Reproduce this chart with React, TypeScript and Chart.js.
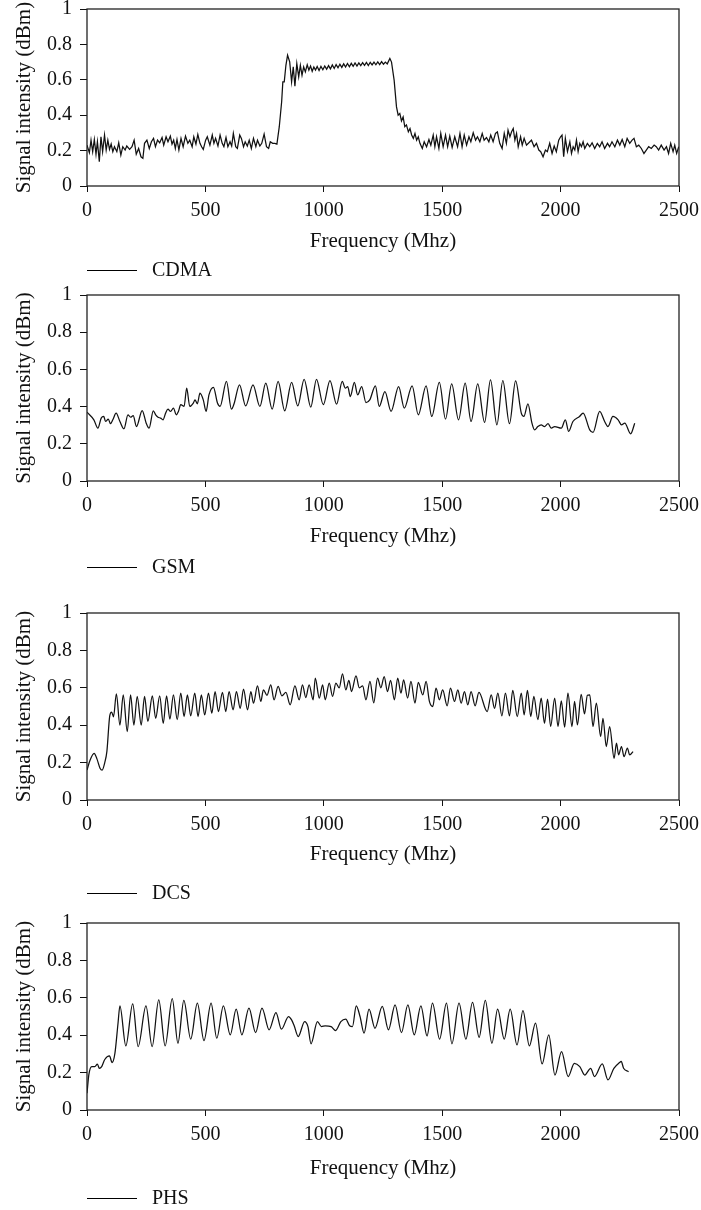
import React, { useEffect, useRef } from 'react';
import { Chart, registerables } from 'chart.js';

Chart.register(...registerables);

// ---------- text & ticks ----------
const X_TICKS = [0, 500, 1000, 1500, 2000, 2500];
const X_TICK_LABELS = ['0', '500', '1000', '1500', '2000', '2500'];
const Y_TICKS = [0, 0.2, 0.4, 0.6, 0.8, 1];
const Y_TICK_LABELS = ['0', '0.2', '0.4', '0.6', '0.8', '1'];
const X_TITLE = 'Frequency (Mhz)';
const Y_TITLE = 'Signal intensity (dBm)';

// ---------- CDMA ----------
const CDMA_FREQ = [
  0, 10, 17, 24, 31, 38, 44, 52, 59, 66, 74, 81, 88, 95, 102, 109, 116, 126, 134, 143,
  151, 161, 168, 180, 190, 199, 208, 218, 228, 236, 243, 253, 263, 272, 281, 289, 298, 307, 317, 324,
  334, 342, 352, 359, 366, 373, 380, 388, 397, 406, 416, 426, 434, 444, 451, 460, 468, 477, 484, 491,
  501, 508, 519, 529, 536, 543, 553, 562, 571, 578, 587, 595, 604, 611, 618, 628, 635, 645, 652, 661,
  668, 677, 685, 694, 703, 713, 720, 730, 738, 748, 758, 767, 774, 784, 793, 802, 812, 822, 827, 833,
  840, 847, 856, 864, 871, 878, 886, 894, 901, 908, 915, 922, 930, 937, 944, 951, 958, 965, 972, 980,
  988, 996, 1004, 1012, 1020, 1028, 1036, 1044, 1052, 1060, 1068, 1076, 1084, 1092, 1100, 1108, 1116, 1124, 1132, 1140,
  1148, 1156, 1164, 1172, 1180, 1188, 1196, 1204, 1212, 1220, 1228, 1236, 1244, 1252, 1260, 1268, 1279, 1286, 1297, 1307,
  1314, 1321, 1328, 1335, 1342, 1349, 1357, 1364, 1371, 1378, 1385, 1392, 1399, 1406, 1416, 1424, 1434, 1444, 1452, 1462,
  1469, 1476, 1486, 1494, 1504, 1514, 1523, 1532, 1542, 1553, 1565, 1575, 1584, 1593, 1603, 1613, 1621, 1631, 1641, 1649,
  1659, 1669, 1677, 1687, 1697, 1705, 1715, 1725, 1733, 1743, 1753, 1762, 1771, 1778, 1786, 1793, 1800, 1807, 1814, 1821,
  1831, 1838, 1846, 1856, 1866, 1877, 1888, 1898, 1908, 1916, 1926, 1936, 1944, 1954, 1964, 1973, 1982, 1992, 2000, 2006,
  2013, 2020, 2029, 2039, 2046, 2053, 2060, 2067, 2074, 2081, 2088, 2095, 2102, 2113, 2123, 2133, 2144, 2155, 2165, 2175,
  2186, 2198, 2207, 2217, 2229, 2240, 2250, 2260, 2271, 2281, 2292, 2302, 2310, 2320, 2330, 2341, 2352, 2362, 2372, 2383,
  2395, 2404, 2414, 2425, 2437, 2447, 2456, 2465, 2475, 2482, 2490, 2499,
];
const CDMA_SIGNAL = [
  0.231, 0.188, 0.259, 0.194, 0.263, 0.18, 0.25, 0.137, 0.278, 0.194, 0.288, 0.203, 0.259, 0.207, 0.237, 0.194, 0.222, 0.194, 0.244, 0.175,
  0.222, 0.203, 0.226, 0.207, 0.222, 0.259, 0.18, 0.212, 0.165, 0.156, 0.241, 0.259, 0.212, 0.25, 0.269, 0.222, 0.259, 0.244, 0.274, 0.231,
  0.278, 0.25, 0.282, 0.237, 0.259, 0.212, 0.263, 0.203, 0.269, 0.222, 0.282, 0.241, 0.259, 0.222, 0.278, 0.237, 0.291, 0.241, 0.222, 0.207,
  0.259, 0.278, 0.231, 0.288, 0.241, 0.269, 0.226, 0.288, 0.241, 0.222, 0.274, 0.222, 0.25, 0.226, 0.297, 0.222, 0.212, 0.288, 0.269, 0.222,
  0.25, 0.226, 0.259, 0.212, 0.269, 0.222, 0.259, 0.226, 0.241, 0.293, 0.222, 0.212, 0.25, 0.241, 0.241, 0.237, 0.335, 0.476, 0.588, 0.588,
  0.682, 0.739, 0.701, 0.588, 0.673, 0.564, 0.692, 0.617, 0.682, 0.626, 0.673, 0.645, 0.685, 0.655, 0.678, 0.648, 0.672, 0.655, 0.675, 0.652,
  0.676, 0.657, 0.678, 0.66, 0.68, 0.662, 0.684, 0.664, 0.686, 0.668, 0.688, 0.67, 0.69, 0.672, 0.692, 0.674, 0.693, 0.676, 0.695, 0.678,
  0.696, 0.68, 0.697, 0.682, 0.698, 0.681, 0.699, 0.684, 0.7, 0.685, 0.701, 0.686, 0.703, 0.688, 0.7, 0.69, 0.72, 0.7, 0.598, 0.447,
  0.4, 0.41, 0.368, 0.39, 0.335, 0.345, 0.306, 0.325, 0.288, 0.269, 0.297, 0.259, 0.278, 0.241, 0.212, 0.25, 0.222, 0.263, 0.231, 0.288,
  0.222, 0.278, 0.212, 0.297, 0.222, 0.288, 0.222, 0.282, 0.218, 0.278, 0.222, 0.297, 0.222, 0.288, 0.231, 0.278, 0.25, 0.301, 0.259, 0.278,
  0.25, 0.297, 0.259, 0.274, 0.25, 0.288, 0.25, 0.297, 0.306, 0.241, 0.212, 0.297, 0.241, 0.316, 0.278, 0.306, 0.325, 0.259, 0.297, 0.222,
  0.278, 0.231, 0.269, 0.231, 0.244, 0.259, 0.222, 0.241, 0.203, 0.194, 0.165, 0.203, 0.194, 0.241, 0.184, 0.226, 0.194, 0.259, 0.278, 0.288,
  0.165, 0.269, 0.194, 0.25, 0.184, 0.222, 0.203, 0.259, 0.194, 0.241, 0.222, 0.25, 0.212, 0.241, 0.222, 0.244, 0.212, 0.241, 0.222, 0.25,
  0.212, 0.241, 0.222, 0.25, 0.222, 0.259, 0.231, 0.263, 0.222, 0.269, 0.241, 0.259, 0.269, 0.222, 0.231, 0.212, 0.184, 0.203, 0.222, 0.212,
  0.231, 0.222, 0.203, 0.231, 0.203, 0.222, 0.184, 0.241, 0.194, 0.231, 0.184, 0.222,
];

// ---------- GSM ----------
const GSM_FREQ = [
  0, 29, 46, 60, 71, 78, 90, 99, 109, 123, 139, 156, 173, 184, 195, 209, 233, 250, 262, 280,
  290, 300, 311, 321, 332, 342, 353, 365, 377, 386, 396, 410, 421, 434, 449, 456, 466, 477, 491, 503,
  515, 534, 551, 562, 589, 610, 621, 644, 670, 701, 730, 755, 782, 807, 835, 864, 890, 917, 945, 969,
  998, 1026, 1054, 1078, 1091, 1101, 1112, 1129, 1143, 1160, 1178, 1194, 1218, 1234, 1258, 1284, 1316, 1340, 1373, 1399,
  1432, 1456, 1488, 1514, 1540, 1569, 1597, 1622, 1650, 1679, 1704, 1731, 1756, 1784, 1810, 1834, 1845, 1862, 1879, 1890,
  1904, 1918, 1932, 1947, 1961, 1975, 2003, 2020, 2034, 2052, 2080, 2095, 2123, 2137, 2165, 2186, 2200, 2221, 2243, 2257,
  2271, 2296, 2313,
];
const GSM_SIGNAL = [
  0.37, 0.329, 0.284, 0.338, 0.347, 0.32, 0.333, 0.308, 0.329, 0.365, 0.32, 0.281, 0.356, 0.343, 0.351, 0.293, 0.379, 0.311, 0.284, 0.377,
  0.356, 0.343, 0.338, 0.329, 0.365, 0.386, 0.374, 0.392, 0.356, 0.374, 0.41, 0.401, 0.499, 0.401, 0.419, 0.436, 0.415, 0.472, 0.436, 0.374,
  0.463, 0.504, 0.419, 0.401, 0.535, 0.386, 0.415, 0.517, 0.404, 0.517, 0.401, 0.526, 0.386, 0.535, 0.377, 0.53, 0.404, 0.547, 0.397, 0.547,
  0.41, 0.54, 0.413, 0.535, 0.499, 0.508, 0.454, 0.53, 0.463, 0.508, 0.422, 0.436, 0.512, 0.401, 0.481, 0.374, 0.508, 0.392, 0.512, 0.356,
  0.512, 0.347, 0.53, 0.333, 0.522, 0.329, 0.526, 0.32, 0.522, 0.315, 0.544, 0.302, 0.54, 0.308, 0.538, 0.365, 0.347, 0.415, 0.311, 0.275,
  0.293, 0.302, 0.293, 0.308, 0.284, 0.293, 0.284, 0.329, 0.267, 0.32, 0.347, 0.365, 0.275, 0.261, 0.374, 0.32, 0.293, 0.347, 0.329, 0.302,
  0.311, 0.254, 0.311,
];

// ---------- DCS ----------
const DCS_FREQ = [
  0, 12, 30, 42, 55, 64, 75, 84, 96, 104, 112, 124, 139, 153, 170, 184, 198, 212, 229, 243,
  257, 276, 290, 307, 322, 336, 350, 365, 381, 396, 410, 424, 438, 455, 469, 483, 497, 513, 527, 541,
  555, 572, 586, 600, 617, 631, 647, 661, 678, 692, 703, 720, 734, 745, 760, 776, 790, 807, 823, 840,
  858, 878, 896, 910, 924, 938, 955, 964, 981, 995, 1006, 1023, 1037, 1051, 1065, 1079, 1093, 1106, 1117, 1136,
  1150, 1164, 1178, 1195, 1211, 1227, 1241, 1255, 1269, 1282, 1298, 1312, 1326, 1337, 1354, 1368, 1385, 1399, 1418, 1432,
  1446, 1460, 1474, 1488, 1502, 1521, 1535, 1552, 1566, 1580, 1594, 1608, 1622, 1639, 1655, 1690, 1707, 1721, 1735, 1752,
  1767, 1784, 1798, 1817, 1834, 1846, 1860, 1874, 1887, 1904, 1918, 1932, 1945, 1958, 1975, 1989, 2003, 2017, 2031, 2048,
  2059, 2071, 2087, 2101, 2113, 2123, 2137, 2151, 2169, 2179, 2193, 2207, 2226, 2236, 2245, 2257, 2268, 2282, 2292, 2306,
];
const DCS_SIGNAL = [
  0.16, 0.21, 0.25, 0.22, 0.17, 0.16, 0.2, 0.26, 0.45, 0.47, 0.445, 0.568, 0.4, 0.562, 0.366, 0.562, 0.4, 0.554, 0.4, 0.554,
  0.42, 0.557, 0.437, 0.557, 0.41, 0.557, 0.432, 0.562, 0.43, 0.571, 0.446, 0.562, 0.45, 0.571, 0.446, 0.562, 0.455, 0.571, 0.464, 0.58,
  0.473, 0.575, 0.473, 0.58, 0.482, 0.58, 0.49, 0.593, 0.482, 0.58, 0.518, 0.61, 0.527, 0.589, 0.56, 0.616, 0.536, 0.607, 0.557, 0.575,
  0.509, 0.61, 0.536, 0.616, 0.548, 0.616, 0.536, 0.652, 0.545, 0.616, 0.536, 0.625, 0.554, 0.625, 0.6, 0.675, 0.589, 0.64, 0.58, 0.664,
  0.6, 0.61, 0.536, 0.634, 0.52, 0.652, 0.6, 0.66, 0.58, 0.64, 0.536, 0.652, 0.571, 0.643, 0.545, 0.634, 0.518, 0.629, 0.562, 0.634,
  0.527, 0.5, 0.598, 0.536, 0.589, 0.504, 0.598, 0.527, 0.589, 0.518, 0.58, 0.509, 0.58, 0.504, 0.575, 0.473, 0.562, 0.49, 0.571, 0.45,
  0.571, 0.45, 0.586, 0.446, 0.571, 0.455, 0.586, 0.446, 0.554, 0.43, 0.545, 0.41, 0.54, 0.393, 0.545, 0.393, 0.53, 0.39, 0.571, 0.393,
  0.527, 0.402, 0.565, 0.46, 0.56, 0.5625, 0.393, 0.518, 0.34, 0.437, 0.286, 0.393, 0.223, 0.304, 0.241, 0.286, 0.232, 0.277, 0.241, 0.259,
];

// ---------- PHS ----------
const PHS_FREQ = [
  0, 8, 20, 33, 44, 52, 62, 75, 95, 106, 118, 131, 139, 164, 193, 216, 249, 275, 303, 330,
  360, 384, 409, 438, 466, 494, 524, 548, 576, 605, 630, 654, 684, 712, 739, 769, 798, 821, 851, 864,
  875, 892, 919, 933, 946, 973, 990, 1006, 1031, 1050, 1072, 1093, 1109, 1121, 1137, 1153, 1170, 1191, 1216, 1247,
  1273, 1301, 1328, 1355, 1382, 1410, 1436, 1459, 1489, 1518, 1541, 1571, 1600, 1628, 1656, 1682, 1710, 1734, 1762, 1787,
  1816, 1841, 1868, 1894, 1922, 1950, 1976, 2004, 2032, 2058, 2081, 2102, 2127, 2143, 2176, 2200, 2225, 2249, 2256, 2266,
  2287,
];
const PHS_SIGNAL = [
  0.09, 0.19, 0.232, 0.232, 0.245, 0.223, 0.232, 0.27, 0.289, 0.254, 0.304, 0.464, 0.557, 0.343, 0.568, 0.339, 0.557, 0.339, 0.589, 0.343,
  0.596, 0.357, 0.586, 0.379, 0.571, 0.371, 0.571, 0.384, 0.557, 0.402, 0.539, 0.402, 0.545, 0.414, 0.545, 0.429, 0.521, 0.432, 0.5, 0.482,
  0.45, 0.393, 0.473, 0.446, 0.354, 0.473, 0.446, 0.45, 0.446, 0.425, 0.473, 0.486, 0.45, 0.446, 0.557, 0.5, 0.411, 0.539, 0.437, 0.554,
  0.429, 0.562, 0.414, 0.562, 0.402, 0.557, 0.396, 0.571, 0.379, 0.571, 0.354, 0.571, 0.379, 0.575, 0.389, 0.586, 0.357, 0.539, 0.379, 0.539,
  0.348, 0.532, 0.343, 0.464, 0.246, 0.402, 0.187, 0.312, 0.179, 0.25, 0.232, 0.187, 0.223, 0.179, 0.246, 0.161, 0.223, 0.254, 0.26, 0.223,
  0.205,
];

const SERIES_NAMES = ['CDMA', 'GSM', 'DCS', 'PHS'];

// ---------- layout (page pixels) ----------
const PANEL_PLOT_TOPS = [9, 295, 613, 923];
const PANEL_PLOT_HEIGHTS = [177, 186, 187, 187];
const PANEL_TITLE_OFFSETS = [55, 55, 54, 58];
const PANEL_LEGEND_OFFSETS = [84, 86, 93, 88];

const FONT_FAMILY = '"Liberation Serif", "Times New Roman", serif';
const TICK_FONT_SIZE = 20;
const TITLE_FONT_SIZE = 21;
const LEGEND_FONT_SIZE = 20;
const TITLE_LH = TITLE_FONT_SIZE * 1.2;
const PAD_TOP = 14;
const CANVAS_W = 701;
const Y_AXIS_W = 87;
const RIGHT_PAD = 22;
const Y_TITLE_CENTER_X = 24;
const INK = '#111';

type PanelProps = {
  name: string;
  freq: number[];
  signal: number[];
  plotTop: number;
  plotHeight: number;
  titleOffset: number;
  legendOffset: number;
  smooth: boolean;
};

function Panel(p: PanelProps) {
  const ref = useRef<HTMLCanvasElement | null>(null);
  const canvasH = PAD_TOP + p.plotHeight + p.legendOffset + 16;
  const xAxisH = p.titleOffset + TITLE_LH / 2;
  const padBottom = canvasH - PAD_TOP - p.plotHeight - xAxisH;

  useEffect(() => {
    if (!ref.current) return;
    const tickFont = { family: FONT_FAMILY, size: TICK_FONT_SIZE };
    const titleFont = { family: FONT_FAMILY, size: TITLE_FONT_SIZE };
    const boxPlugin = {
      id: 'frameAndLegend',
      afterDraw(chart: any) {
        const { ctx, chartArea } = chart;
        ctx.save();
        ctx.strokeStyle = '#222';
        ctx.lineWidth = 1.3;
        ctx.strokeRect(chartArea.left, chartArea.top, chartArea.right - chartArea.left, chartArea.bottom - chartArea.top);
        const ly = Math.round(chartArea.bottom + p.legendOffset) + 0.5;
        ctx.strokeStyle = '#000';
        ctx.lineWidth = 1;
        ctx.beginPath();
        ctx.moveTo(Math.round(chartArea.left), ly);
        ctx.lineTo(Math.round(chartArea.left) + 50, ly);
        ctx.stroke();
        ctx.fillStyle = INK;
        ctx.font = `${LEGEND_FONT_SIZE}px ${FONT_FAMILY}`;
        ctx.textBaseline = 'middle';
        ctx.textAlign = 'left';
        ctx.fillText(p.name, chartArea.left + 65, ly);
        ctx.restore();
      },
    };

    const chart = new Chart(ref.current, {
      type: 'line',
      data: {
        labels: p.freq,
        datasets: [
          {
            label: p.name,
            data: p.signal,
            borderColor: INK,
            borderWidth: 1.25,
            pointRadius: 0,
            fill: false,
            tension: p.smooth ? 0.4 : 0,
            cubicInterpolationMode: p.smooth ? 'monotone' : 'default',
          },
        ],
      },
      options: {
        animation: false,
        responsive: false,
        devicePixelRatio: 1,
        layout: { padding: { top: PAD_TOP, left: 0, right: RIGHT_PAD, bottom: padBottom } },
        plugins: { legend: { display: false }, tooltip: { enabled: false } },
        scales: {
          x: {
            type: 'linear',
            min: 0,
            max: 2500,
            afterBuildTicks: (s: any) => {
              s.ticks = X_TICKS.map((v) => ({ value: v }));
            },
            afterFit: (s: any) => {
              s.height = xAxisH;
              s.paddingLeft = 0;
              s.paddingRight = 0;
            },
            ticks: {
              callback: (_v: any, i: number) => X_TICK_LABELS[i],
              font: tickFont,
              color: INK,
              padding: 7,
              maxRotation: 0,
              autoSkip: false,
            },
            grid: { drawOnChartArea: false, drawTicks: true, tickLength: 6, tickColor: INK, color: INK },
            border: { display: false },
            title: { display: true, text: X_TITLE, font: titleFont, color: INK, padding: { top: 0, bottom: 0 } },
          },
          y: {
            type: 'linear',
            min: 0,
            max: 1,
            afterBuildTicks: (s: any) => {
              s.ticks = Y_TICKS.map((v) => ({ value: v }));
            },
            afterFit: (s: any) => {
              s.width = Y_AXIS_W;
              s.paddingTop = 0;
              s.paddingBottom = 0;
            },
            ticks: {
              callback: (_v: any, i: number) => Y_TICK_LABELS[i],
              font: tickFont,
              color: INK,
              padding: 8,
            },
            grid: { drawOnChartArea: false, drawTicks: true, tickLength: 7, tickColor: INK, color: INK },
            border: { display: false },
            title: {
              display: true,
              text: Y_TITLE,
              font: titleFont,
              color: INK,
              padding: { top: Y_TITLE_CENTER_X - TITLE_LH / 2, bottom: 0 },
            },
          },
        },
      },
      plugins: [boxPlugin],
    } as any);
    return () => chart.destroy();
  }, []);

  return (
    <canvas
      ref={ref}
      width={CANVAS_W}
      height={canvasH}
      style={{ position: 'absolute', left: 0, top: p.plotTop - PAD_TOP, display: 'block' }}
    />
  );
}

export default function App() {
  const freqs = [CDMA_FREQ, GSM_FREQ, DCS_FREQ, PHS_FREQ];
  const signals = [CDMA_SIGNAL, GSM_SIGNAL, DCS_SIGNAL, PHS_SIGNAL];
  return (
    <div
      style={{
        position: 'absolute',
        left: 0,
        top: 0,
        width: 701,
        height: 1210,
        overflow: 'hidden',
        background: '#fff',
      }}
    >
      {SERIES_NAMES.map((name, i) => (
        <Panel
          key={name}
          name={name}
          freq={freqs[i]}
          signal={signals[i]}
          plotTop={PANEL_PLOT_TOPS[i]}
          plotHeight={PANEL_PLOT_HEIGHTS[i]}
          titleOffset={PANEL_TITLE_OFFSETS[i]}
          legendOffset={PANEL_LEGEND_OFFSETS[i]}
          smooth={i !== 0}
        />
      ))}
    </div>
  );
}
